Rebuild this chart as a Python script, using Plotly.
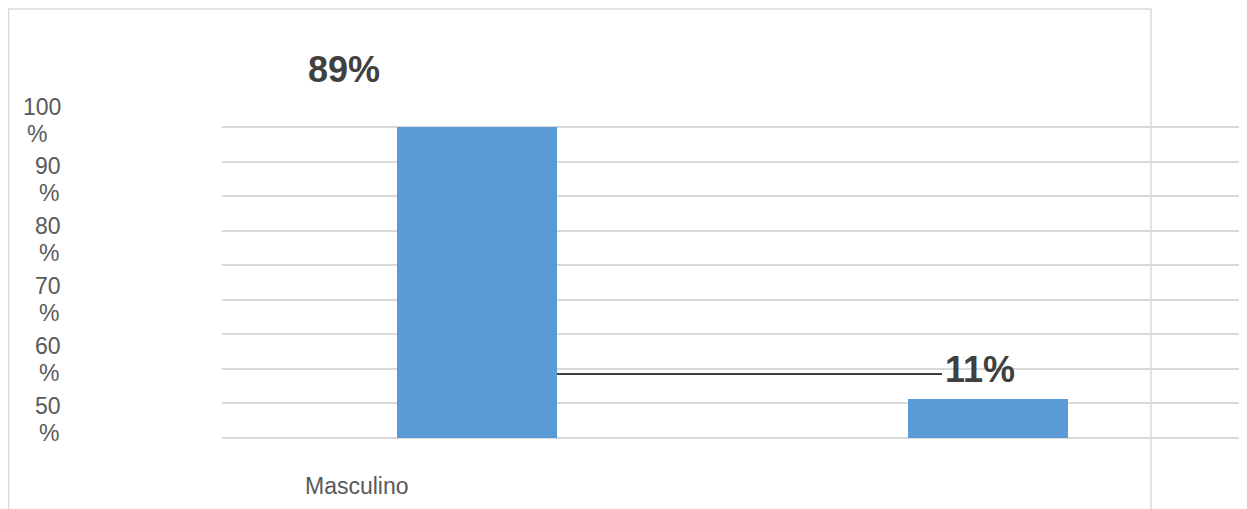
import plotly.graph_objects as go

categories = ["Masculino", "Femenino"]
values = [89, 11]
value_labels = ["89%", "11%"]
category_labels = ["Masculino", ""]
y_label_numbers = ["100", "90", "80", "70", "60", "50"]
y_label_unit = "%"

# The page adds an 8px body margin, so the figure is laid out in page pixels minus 8.
OFF = 8
W, H = 1247 - OFF, 509 - OFF
L, R, T, B = 222 - OFF, 0, 117, 69
plot_w = W - L - R
plot_h = H - T - B
ymin, ymax = -0.7, 89.7
unit_px = plot_h / (ymax - ymin)


def fx(page_px):
    return (page_px - OFF - L) / plot_w


def fy(page_py):
    return (T + plot_h - (page_py - OFF)) / plot_h


bar_color = "#5B9BD5"
text_dark = "#404040"
text_gray = "#595959"
grid = "#D9D9D9"
font = "Liberation Sans, Arial, sans-serif"
label_size = 23

fig = go.Figure()
fig.add_trace(go.Bar(
    x=categories, y=values, width=0.313 * (1021 / plot_w) * (plot_w / 1021),
    marker=dict(color=bar_color, line=dict(width=0)),
    hoverinfo="skip",
))

annotations = []
label_centers = [120, 179, 239, 299, 359, 419]
for num, cy in zip(y_label_numbers, label_centers):
    right = 63
    left = right - len(num) * 0.556 * label_size
    annotations.append(dict(
        x=fx(right), y=fy(cy - 13), xref="paper", yref="paper",
        text=num, showarrow=False, xanchor="right", yanchor="middle",
        font=dict(family=font, size=label_size, color=text_gray),
    ))
    annotations.append(dict(
        x=fx(left), y=fy(cy + 14), xref="paper", yref="paper",
        text=y_label_unit, showarrow=False, xanchor="left", yanchor="middle",
        font=dict(family=font, size=label_size, color=text_gray),
    ))

annotations.append(dict(
    x=fx(344), y=fy(70), xref="paper", yref="paper", text=value_labels[0],
    showarrow=False, xanchor="center", yanchor="middle",
    font=dict(family=font, size=36, color=text_dark, weight="bold"),
))
annotations.append(dict(
    x=fx(980), y=fy(369), xref="paper", yref="paper", text=value_labels[1],
    showarrow=False, xanchor="center", yanchor="middle",
    font=dict(family=font, size=36, color=text_dark, weight="bold"),
))

annotations.append(dict(
    x=fx(357), y=fy(486), xref="paper", yref="paper",
    text=category_labels[0], showarrow=False, xanchor="center", yanchor="middle",
    font=dict(family=font, size=label_size, color=text_gray),
))

shapes = [
    dict(type="rect", xref="paper", yref="paper",
         x0=fx(8.5), x1=fx(1151),
         y0=fy(540), y1=fy(9),
         line=dict(color=grid, width=1.5), fillcolor="rgba(0,0,0,0)", layer="below"),
    dict(type="line", xref="paper", yref="paper",
         x0=fx(557), x1=fx(942),
         y0=fy(374), y1=fy(374),
         line=dict(color=text_dark, width=2)),
]

fig.update_layout(
    width=W, height=H,
    margin=dict(l=L, r=R, t=T, b=B),
    paper_bgcolor="white", plot_bgcolor="white",
    showlegend=False,
    bargap=0,
    annotations=annotations,
    shapes=shapes,
    xaxis=dict(range=[-0.5, 1.5 + 4 / 510.5], showticklabels=False, showgrid=False,
               zeroline=False, showline=False, ticks=""),
    yaxis=dict(range=[ymin, ymax], tick0=0, dtick=89 / 9, showticklabels=False,
               showgrid=True, gridcolor=grid, gridwidth=1.5, zeroline=False,
               showline=False, ticks=""),
)

fig.write_html("out.html")
